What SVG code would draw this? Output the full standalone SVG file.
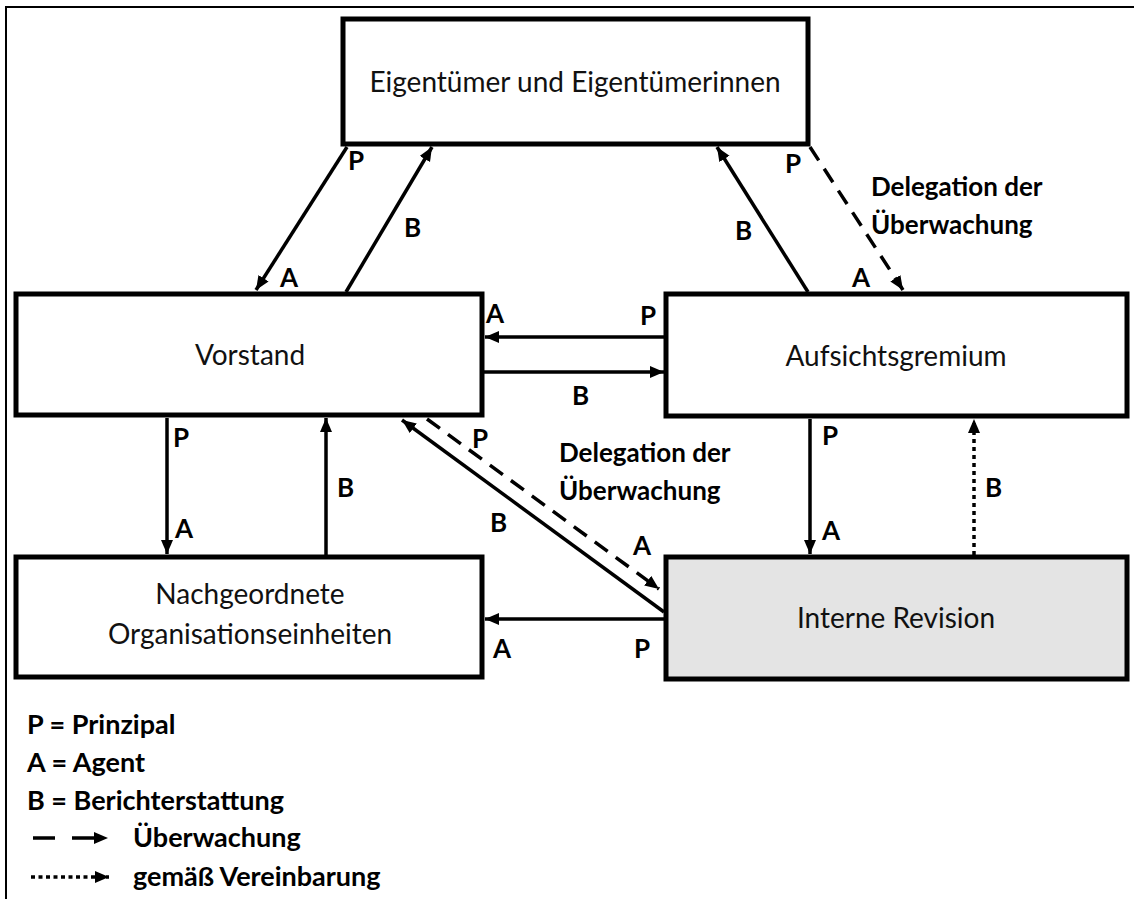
<svg xmlns="http://www.w3.org/2000/svg" width="1134" height="899" viewBox="0 0 1134 899">
  <style>
    .node { fill: #ffffff; stroke: #000000; stroke-width: 5; }
    .node.grey { fill: #e4e4e4; }
    .ntext { font-family: Lato, "Liberation Sans", sans-serif; font-size: 28px; fill: #111111; text-anchor: middle; }
    .lbl { font-family: Lato, "Liberation Sans", sans-serif; font-size: 26px; font-weight: bold; fill: #000000; }
    .leg { font-family: Lato, "Liberation Sans", sans-serif; font-size: 27px; font-weight: bold; fill: #000000; }
    .edge { stroke: #000000; stroke-width: 3.5; fill: none; marker-end: url(#head); }
    .dash { stroke-dasharray: 16 10; }
    .dot { stroke-dasharray: 4 4; }
    .frame { stroke: #000000; stroke-width: 2; fill: none; }
  </style>
  <defs>
    <marker id="head" markerUnits="userSpaceOnUse" markerWidth="16" markerHeight="14" refX="14" refY="6" orient="auto">
      <path d="M0,0 L14,6 L0,12 z" fill="#000000"/>
    </marker>
  </defs>

  <rect width="1134" height="899" fill="#ffffff"/>
  <!-- page frame: top and left rules only -->
  <path class="frame" d="M6,899 V7 H1134"/>

  <!-- nodes -->
  <g id="eigentuemer">
    <rect class="node" x="343" y="19" width="465" height="125"/>
    <text class="ntext" x="575" y="92">Eigentümer und Eigentümerinnen</text>
  </g>
  <g id="vorstand">
    <rect class="node" x="16" y="294" width="466" height="121"/>
    <text class="ntext" x="250" y="365">Vorstand</text>
  </g>
  <g id="aufsichtsgremium">
    <rect class="node" x="666" y="294" width="461" height="122"/>
    <text class="ntext" x="896" y="366">Aufsichtsgremium</text>
  </g>
  <g id="nachgeordnete">
    <rect class="node" x="16" y="557" width="466" height="120"/>
    <text class="ntext" x="250" y="604">Nachgeordnete</text>
    <text class="ntext" x="250" y="644">Organisationseinheiten</text>
  </g>
  <g id="interne-revision">
    <rect class="node grey" x="666" y="557" width="461" height="122"/>
    <text class="ntext" x="896" y="628">Interne Revision</text>
  </g>

  <!-- connectors -->
  <g id="connectors">
    <line class="edge" x1="347" y1="147" x2="256" y2="290"/>
    <line class="edge" x1="346" y1="292" x2="432" y2="147"/>
    <line class="edge" x1="808" y1="292" x2="717" y2="147"/>
    <line class="edge dash" x1="810" y1="147" x2="903" y2="290"/>
    <line class="edge" x1="665" y1="337" x2="485" y2="337"/>
    <line class="edge" x1="484" y1="372" x2="664" y2="372"/>
    <line class="edge" x1="167" y1="418" x2="167" y2="554"/>
    <line class="edge" x1="326" y1="555" x2="326" y2="418"/>
    <line class="edge" x1="664" y1="612" x2="402" y2="420"/>
    <line class="edge dash" x1="427" y1="419" x2="659" y2="589"/>
    <line class="edge" x1="810" y1="419" x2="810" y2="554"/>
    <line class="edge dot" x1="974" y1="555" x2="974" y2="419"/>
    <line class="edge" x1="664" y1="619" x2="485" y2="619"/>
  </g>

  <!-- connector labels -->
  <g id="labels">
    <text class="lbl" x="348" y="170">P</text>
    <text class="lbl" x="404" y="237">B</text>
    <text class="lbl" x="280" y="287">A</text>
    <text class="lbl" x="735" y="240">B</text>
    <text class="lbl" x="785" y="173">P</text>
    <text class="lbl" x="852" y="287">A</text>
    <text class="lbl" x="871" y="196">Delegation der</text>
    <text class="lbl" x="871" y="234">Überwachung</text>
    <text class="lbl" x="486" y="323">A</text>
    <text class="lbl" x="640" y="325">P</text>
    <text class="lbl" x="572" y="405">B</text>
    <text class="lbl" x="173" y="447">P</text>
    <text class="lbl" x="175" y="538">A</text>
    <text class="lbl" x="337" y="497">B</text>
    <text class="lbl" x="472" y="448">P</text>
    <text class="lbl" x="559" y="462">Delegation der</text>
    <text class="lbl" x="559" y="500">Überwachung</text>
    <text class="lbl" x="490" y="532">B</text>
    <text class="lbl" x="633" y="555">A</text>
    <text class="lbl" x="822" y="445">P</text>
    <text class="lbl" x="822" y="540">A</text>
    <text class="lbl" x="985" y="497">B</text>
    <text class="lbl" x="493" y="658">A</text>
    <text class="lbl" x="634" y="658">P</text>
  </g>

  <!-- legend -->
  <g id="legend">
    <text class="leg" x="27" y="734">P = Prinzipal</text>
    <text class="leg" x="27" y="772">A = Agent</text>
    <text class="leg" x="27" y="810">B = Berichterstattung</text>
    <line class="edge" x1="33" y1="838" x2="108" y2="838" stroke-dasharray="22 17"/>
    <text class="leg" x="133" y="847">Überwachung</text>
    <line class="edge" x1="31" y1="877" x2="109" y2="877" stroke-dasharray="4 3.5"/>
    <text class="leg" x="133" y="886">gemäß Vereinbarung</text>
  </g>
</svg>
